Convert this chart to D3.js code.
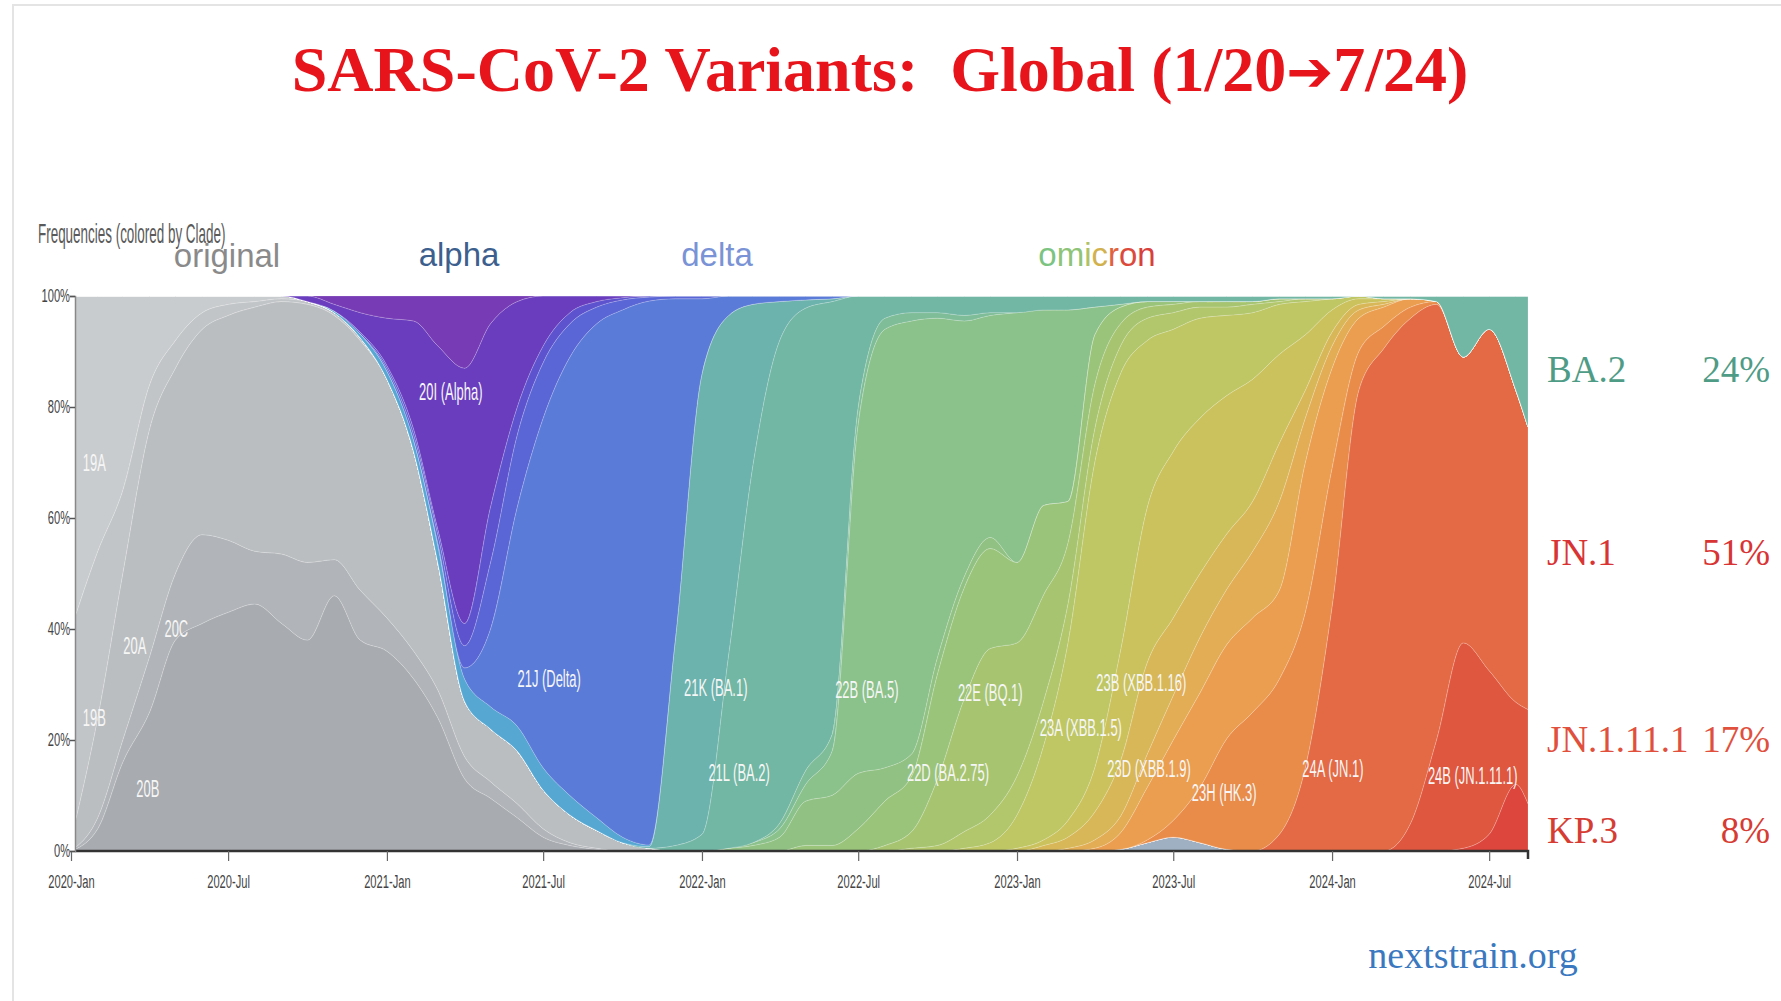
<!DOCTYPE html>
<html><head><meta charset="utf-8">
<script src="https://cdn.jsdelivr.net/npm/d3@7"></script>
<style>body{margin:0;background:#fff;}svg{display:block;}</style>
</head><body>
<svg id="chart" width="1781" height="1001"></svg>
<script>
// ---------- DATA ----------
const dates = ["2020-01-01","2020-02-01","2020-03-01","2020-04-01","2020-05-01","2020-06-01","2020-07-01","2020-08-01","2020-09-01","2020-10-01","2020-11-01","2020-12-01",
"2021-01-01","2021-02-01","2021-03-01","2021-04-01","2021-05-01","2021-06-01","2021-07-01","2021-08-01","2021-09-01","2021-10-01","2021-11-01","2021-12-01",
"2022-01-01","2022-02-01","2022-03-01","2022-04-01","2022-05-01","2022-06-01","2022-07-01","2022-08-01","2022-09-01","2022-10-01","2022-11-01","2022-12-01",
"2023-01-01","2023-02-01","2023-03-01","2023-04-01","2023-05-01","2023-06-01","2023-07-01","2023-08-01","2023-09-01","2023-10-01","2023-11-01","2023-12-01",
"2024-01-01","2024-02-01","2024-03-01","2024-04-01","2024-05-01","2024-06-01","2024-07-01","2024-08-01","2024-08-15"];

// frequency (%) of each clade, starting at the given month index (0 before / after)
const v_rec  = [0.3,1.5,2.5,1.5,0.3,0];
const v_20B  = [0,4,16,25,38,41,43,44.5,41,38,46,38,36,31,24,13,9.5,6,2.5,1,0.3,0];
const v_20C  = [0,2,4,10,12,16,13,9.5,12.5,14,6.5,9,6,5,5,4,3,2.5,1.5,0.5,0.2,0];
const v_20A  = [2,18,30,41,37,37,40.5,44,45.5,46.5,44,45,43,36,23,10,9.5,9.5,7,5,3.2,1.5,0.5,0];
const v_19B  = [38,30,15,8,5,3,2,1,0.5,0.5,0.5,0.5,0];
const v_19A  = [60,46,35,16,8,3,1.5,1,0.5,0];
const v_24C  = [0.5,3,12,8.5];
const v_24B  = [5,20,37,29.5,14.8,17];
const v_24A  = [3,15,44,83,91,91,78.5,51.5,61.5,56.2,50.9];
const v_23H  = [0.5,3,10,20,25,28,28,25,7,4,2,0.5,0];
const v_23F  = [0.5,3,9.5,14.5,17,17,17,16,27,18,6,3.5,1.5,0];
const v_23E  = [0.5,1.5,3,6,8,10,10,12,16,8,4,1.5,0.5,0];
const v_23D  = [1,2,5,10,16.5,14,11.5,10,9,10.5,5,2.5,1,0.5,0];
const v_23B  = [0.5,1,3,8,20,28,30,28,25,22,16,10,4,1,0.5,0];
const v_23A  = [0.5,1.5,6,17,32,55,50,30,22,18,14.5,12,9,6,2,0.5,0];
const v_22F  = [0.5,1,3,5,7,8,7,6,5,4,3,2,1.5,1.5,0.5,0.5,0];
const v_22E  = [1,3,12,24,30,24,19,11,8,4,2,1.5,1,1,0.5,0.5,0];
const v_22D  = [1,1,4,8,10,19,20,18,14.5,16,7.5,9,3,1,0.5,0];
const v_22C  = [0.5,1,2.5,8,9,10,6,4,3,2,2,0];
const v_22B  = [0.5,1.5,3,8,63,79,78,61,46,40,45,35,34.5,5,0.5,0];
const v_22A  = [1,2.5,3,3,2,1.5,1,1,0.5,0];
const v_21L  = [1,3,35,68,87,83.5,77.5,20,4,3,3,3.5,3,3,2.5,2.5,2,1.5,1,1,1,1,1,0.5,0.5,0.5,0,0.5,0.5,1,11,6,17,23.6];
const v_21K  = [0.3,37,83,61,29,7,1.5,0.5,0];
const v_21A  = [0.3,0.7,1.5,2,3,4,4,4.5,4,3.5,2.3,1,0.3,0];
const v_21J  = [0.5,2,14,39.5,63,79,89,95,98,61.5,13.5,3.5,1.5,1,0.7,0.5,0];
const v_21I  = [0.5,1,1.5,4,12,13,10,6,3,1.8,0.7,0.5,0.5,0];
const v_20J  = [0.3,0.5,1,1,4,10,5,3,2,1,0.4,0.2,0];
const v_20I  = [1,1.2,3.5,8.5,19.5,33,46,33,19,9,3,1,0.3,0];
const v_20It = [1.5,3,4,4.5,9,13,5,1,0];

// stack order bottom -> top
const cladeKeys   = ["rec","20B","20C","20A","19B","19A","24C","24B","24A","23H","23F","23E","23D","23B","23A","22F","22E","22D","22C","22B","22A","21L","21K","21A","21J","21I","20J","20I","20It"];
const cladeStarts = [40,0,0,0,0,0,53,51,46,41,39,38,37,36,34,32,31,28,25,26,27,23,22,10,14,12,11,9,10];
const cladeValues = [v_rec,v_20B,v_20C,v_20A,v_19B,v_19A,v_24C,v_24B,v_24A,v_23H,v_23F,v_23E,v_23D,v_23B,v_23A,v_22F,v_22E,v_22D,v_22C,v_22B,v_22A,v_21L,v_21K,v_21A,v_21J,v_21I,v_20J,v_20I,v_20It];
const cladeColors = ["#9fb0c2","#a8abb0","#b1b4b8","#bbbec1","#c2c5c8","#c9ccce","#dc463c","#e0573f","#e46a45","#e98c4a","#eb9e4f","#e2ad55","#d8b758","#cbc25d","#bfc664","#b2c66b","#a7c571","#9bc47b","#92c283","#8bc18a","#7fbd98","#72b7a4","#6cb2ad","#56a8d3","#5a7bd8","#5a66d5","#5d53ce","#6a3dbf","#773cb5"];

// clade labels inside the plot
const labelTexts = ["19A","19B","20A","20C","20B","20I (Alpha)","21J (Delta)","21K (BA.1)","21L (BA.2)","22B (BA.5)","22D (BA.2.75)","22E (BQ.1)","23A (XBB.1.5)","23B (XBB.1.16)","23D (XBB.1.9)","23H (HK.3)","24A (JN.1)","24B (JN.1.11.1)"];
const labelDates = ["2020-01-28","2020-01-28","2020-03-15","2020-05-02","2020-03-30","2021-03-16","2021-07-08","2022-01-17","2022-02-13","2022-07-11","2022-10-13","2022-12-01","2023-03-16","2023-05-25","2023-06-03","2023-08-29","2024-01-02","2024-06-12"];
const labelPcts  = [70,24,37,40,11.3,82.7,31,29.5,14.2,29,14.2,28.5,22.3,30.3,14.8,10.6,14.8,13.5];

const tickDates  = ["2020-01-01","2020-07-01","2021-01-01","2021-07-01","2022-01-01","2022-07-01","2023-01-01","2023-07-01","2024-01-01","2024-07-01"];
const tickLabels = ["2020-Jan","2020-Jul","2021-Jan","2021-Jul","2022-Jan","2022-Jul","2023-Jan","2023-Jul","2024-Jan","2024-Jul"];
const yTicks     = [0,0.2,0.4,0.6,0.8,1];

const noteNames  = ["BA.2","JN.1","JN.1.11.1","KP.3"];
const notePcts   = ["24%","51%","17%","8%"];
const noteColors = ["#4f9c86","#d93434","#e0503c","#d63c32"];

// ---------- CHART ----------
const svg = d3.select("#chart");
const parse = d3.utcParse("%Y-%m-%d");
const X0 = 71, X1 = 1528, YB = 851, YT = 296, AX = 75;
const x = d3.scaleUtc().domain([parse("2020-01-01"), parse("2024-08-15")]).range([X0, X1]);
const y = d3.scaleLinear().domain([0, 1]).range([YB, YT]);

// frame
svg.append("rect").attr("x",13).attr("y",5).attr("width",1800).attr("height",1020)
  .attr("fill","none").attr("stroke","#e4e4e4").attr("stroke-width",2);

// title
const title = svg.append("text").attr("x",880).attr("y",91).attr("text-anchor","middle")
  .attr("font-family","'Liberation Serif','Times New Roman',serif").attr("font-weight","bold")
  .attr("font-size",64).attr("fill","#e8141b");
title.append("tspan").text("SARS-CoV-2 Variants:\u00a0 Global (1/20");
title.append("tspan").attr("font-family","'DejaVu Sans',sans-serif").attr("font-size",56).text("\u2794");
title.append("tspan").text("7/24)");

// rows
const rows = dates.map((d, i) => {
  const r = {date: parse(d)};
  cladeKeys.forEach((k, s) => {
    const j = i - cladeStarts[s];
    const v = cladeValues[s];
    r[k] = (j >= 0 && j < v.length) ? v[j] : 0;
  });
  return r;
});
const layers = d3.stack().keys(cladeKeys).offset(d3.stackOffsetExpand)(rows);

svg.append("defs").append("clipPath").attr("id","pc").append("rect")
  .attr("x",AX).attr("y",YT).attr("width",X1-AX).attr("height",YB-YT);

const area = d3.area().x(d => x(d.data.date)).y0(d => y(d[0])).y1(d => y(d[1])).curve(d3.curveMonotoneX);
svg.append("g").attr("clip-path","url(#pc)").selectAll("path").data(layers).join("path")
  .attr("d", area).attr("fill", (d, i) => cladeColors[i])
  .attr("stroke","rgba(255,255,255,0.22)").attr("stroke-width",0.8);

// clade labels
svg.append("g").selectAll("text").data(labelTexts).join("text")
  .attr("transform",(d,i)=>`translate(${x(parse(labelDates[i]))},${y(labelPcts[i]/100)}) scale(0.54,1)`)
  .attr("text-anchor","middle").attr("dy","0.35em")
  .attr("font-family","'Liberation Sans',Arial,sans-serif").attr("font-size",24)
  .attr("fill","#f6f6f6").text(d => d);

// axes
const xAxis = d3.axisBottom(x).tickValues(tickDates.map(parse))
  .tickFormat((d,i)=>tickLabels[i]).tickSize(10).tickSizeOuter(8);
const gx = svg.append("g").attr("transform",`translate(0,${YB})`).call(xAxis);
gx.select(".domain").attr("stroke","#333").attr("stroke-width",2.5).attr("d",`M${AX},0H${X1}V8`);
gx.selectAll(".tick line").attr("stroke","#666").attr("stroke-width",1.2);
gx.selectAll(".tick text").attr("y",0).attr("dy",0)
  .attr("transform","translate(0,37) scale(0.62,1)")
  .attr("font-family","'Liberation Sans',Arial,sans-serif").attr("font-size",18).attr("fill","#444");

const yAxis = d3.axisLeft(y).tickValues(yTicks).tickFormat(d3.format(".0%")).tickSize(5).tickPadding(3);
const gy = svg.append("g").attr("transform",`translate(${AX},0)`).call(yAxis);
gy.select(".domain").attr("stroke","#888").attr("stroke-width",1.5);
gy.selectAll(".tick line").attr("stroke","#555").attr("stroke-width",1.5);
gy.selectAll(".tick text").attr("transform","scale(0.62,1)")
  .attr("font-family","'Liberation Sans',Arial,sans-serif").attr("font-size",18).attr("fill","#444");

// panel header
svg.append("text").attr("transform","translate(38,243) scale(0.48,1)")
  .attr("font-family","'Liberation Sans',Arial,sans-serif").attr("font-size",28).attr("fill","#5a5a5a")
  .text("Frequencies (colored by Clade)");

const era = svg.append("g").attr("font-family","'Liberation Sans',Arial,sans-serif").attr("font-size",33).attr("text-anchor","middle");
era.append("text").attr("x",227).attr("y",267).attr("fill","#8a8a8a").text("original");
era.append("text").attr("x",459).attr("y",266).attr("fill","#3d5f8e").text("alpha");
era.append("text").attr("x",717).attr("y",266).attr("fill","#7a93d6").text("delta");
const om = era.append("text").attr("x",1097).attr("y",266);
[["o","#7cc482"],["m","#8ec477"],["i","#b0c262"],["c","#d2b24f"],["r","#e0623f"],["o","#dc4a3c"],["n","#d8413b"]]
  .forEach(([t,c]) => om.append("tspan").attr("fill",c).text(t));

// right-side notes
const noteY = [382,565,752,843];
const notes = svg.append("g").attr("font-family","'Liberation Serif','Times New Roman',serif").attr("font-size",37);
noteNames.forEach((n,i) => {
  notes.append("text").attr("x",1547).attr("y",noteY[i]).attr("fill",noteColors[i]).text(n);
  notes.append("text").attr("x",1770).attr("y",noteY[i]).attr("text-anchor","end").attr("fill",noteColors[i]).text(notePcts[i]);
});

svg.append("text").attr("x",1473).attr("y",968).attr("text-anchor","middle")
  .attr("font-family","'Liberation Serif','Times New Roman',serif").attr("font-size",38).attr("fill","#3a78c0")
  .text("nextstrain.org");
</script>
</body></html>
